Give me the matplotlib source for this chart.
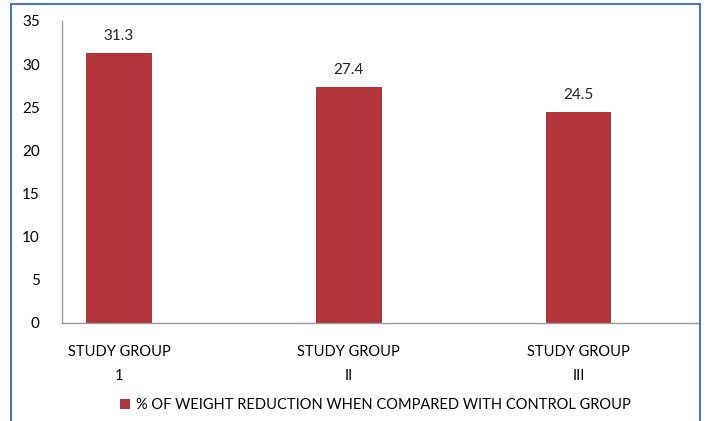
import matplotlib.pyplot as plt
from matplotlib.patches import Rectangle

groups = ['STUDY GROUP\n1', 'STUDY GROUP\nII', 'STUDY GROUP\nIII']
reduction = [31.3, 27.4, 24.5]
yticks = [0, 5, 10, 15, 20, 25, 30, 35]
series_name = '% OF WEIGHT REDUCTION WHEN COMPARED WITH CONTROL GROUP'

bar_color = '#B0343A'
plt.rcParams['font.family'] = ['Lato', 'DejaVu Sans']

fig = plt.figure(figsize=(7.06, 4.21), dpi=100)
W, H = 706, 421
ax = fig.add_axes([62 / W, 98 / H, (698 - 62) / W, (323 - 21) / H])

x = list(range(len(groups)))
bars = ax.bar(x, reduction, width=0.287, color=bar_color, label=series_name)
for xi, v in zip(x, reduction):
    ax.text(xi, v + 1.1, f'{v}', ha='center', va='bottom', fontsize=11, color='#222222')

ax.set_xlim(-0.248, 2.52)
ax.set_ylim(0, 35)
ax.set_yticks(yticks)
ax.set_xticks(x)
ax.set_xticklabels(groups, fontsize=10.5, linespacing=1.9)
ax.tick_params(axis='y', length=0, pad=16, labelsize=11)
ax.tick_params(axis='x', length=0, pad=16)
for s in ['top', 'right']:
    ax.spines[s].set_visible(False)
for s in ['left', 'bottom']:
    ax.spines[s].set_color('#9A9A9A')
    ax.spines[s].set_linewidth(1.0)

leg = fig.legend(handles=[bars], labels=[series_name], loc='center',
                 bbox_to_anchor=(375 / W, 1 - 405 / H), frameon=False,
                 fontsize=10.5, handlelength=0.7, handleheight=0.7, handletextpad=0.4)

# outer chart border (blue frame)
fig.patches.append(Rectangle((11 / W, -0.05), (700 - 11) / W, 1.05 - 4 / H,
                             transform=fig.transFigure, fill=False,
                             edgecolor='#4A76B8', linewidth=1.5))

plt.savefig('out.png', dpi=100)
